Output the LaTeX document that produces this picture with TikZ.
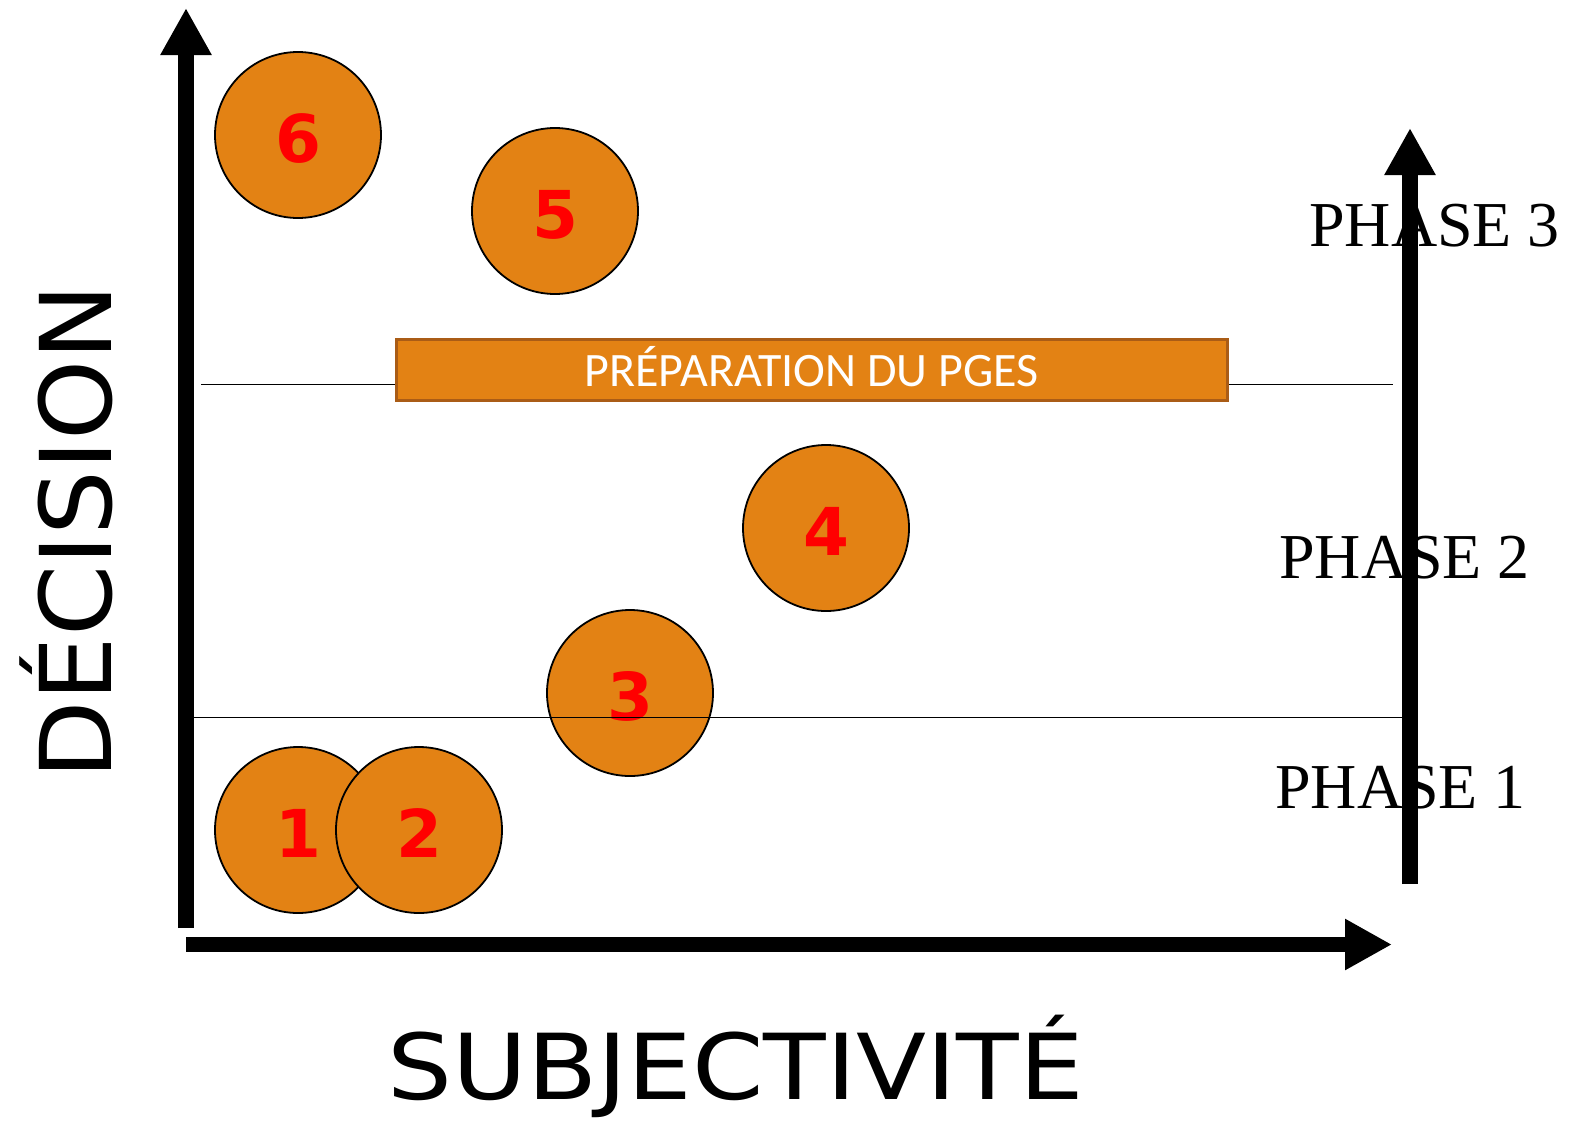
\documentclass[tikz,border=0pt]{standalone}
\usepackage{fontspec}
\usepackage{graphicx}
\setmainfont{Liberation Serif}
\newfontfamily\djvfont{DejaVu Sans}
\newfontfamily\carlitofont{Carlito}
\usetikzlibrary{arrows.meta}
\definecolor{orng}{RGB}{227,130,20}
\definecolor{orngdark}{RGB}{170,92,22}
\definecolor{numred}{RGB}{255,0,0}
\begin{document}
\begin{tikzpicture}[x=1pt,y=-1pt,
  bubble/.style={circle,draw=black,line width=1.8pt,fill=orng,minimum size=166pt,inner sep=0pt},
  num/.style={text=numred,font=\djvfont\bfseries\fontsize{66}{66}\selectfont,inner sep=0pt,anchor=base},
  axis/.style={line width=15.5pt,-{Triangle[width=48pt,length=47pt]}},
  thin/.style={line width=1.8pt},
  phase/.style={font=\fontsize{64}{64}\selectfont,inner sep=0pt,anchor=base west}]
\useasboundingbox (0,0) rectangle (1571,1122);
% circles
\node[bubble] (c6) at (298,135) {};
\node[bubble] (c5) at (555,211) {};
\node[bubble] (c4) at (826,528) {};
\node[bubble] (c3) at (630,693) {};
\node[bubble] (c1) at (298,830) {};
\node[bubble] (c2) at (419,830) {};
\node[num] (n6) at (298,162) {6};
\node[num] (n5) at (555,238) {5};
\node[num] (n4) at (826,555) {4};
\node[num] (n3) at (630,720) {3};
\node[num] (n1) at (298,857) {1};
\node[num] (n2) at (419,857) {2};
% phase separator lines
\coordinate (l1a) at (193,717.5);
\coordinate (l1b) at (1403,717.5);
\coordinate (l2a) at (201,384.5);
\coordinate (l2b) at (1393,384.5);
\draw[thin] (l1a) -- (l1b);
\draw[thin] (l2a) -- (l2b);
% banner
\node[draw=orngdark,line width=3pt,fill=orng,minimum width=831pt,minimum height=61pt,inner sep=0pt] (banner) at (811.5,369.5) {};
\node[text=white,font=\carlitofont\fontsize{48}{48}\selectfont,inner sep=0pt,anchor=base] (bannertxt) at (811.5,386.5) {PRÉPARATION DU PGES};
% phase labels
\node[phase] (p3) at (1309,246) {PHASE 3};
\node[phase] (p2) at (1279,578) {PHASE 2};
\node[phase] (p1) at (1275,808) {PHASE 1};
% axes
\coordinate (yb) at (186,928);
\coordinate (yt) at (186,8);
\coordinate (xl) at (186,944.5);
\coordinate (xr) at (1392,944.5);
\coordinate (pb) at (1410,884);
\coordinate (pt) at (1410,128);
\draw[axis] (yb) -- (yt);
\draw[axis] (xl) -- (xr);
\draw[axis] (pb) -- (pt);
% axis titles
\node[font=\djvfont\fontsize{99}{99}\selectfont,inner sep=0pt,rotate=90,anchor=base west] (ylab) at (111,780) {\scalebox{1.03}[1]{DÉCISION}};
\node[font=\djvfont\fontsize{91}{91}\selectfont,inner sep=0pt,anchor=base west] (xlab) at (387,1099) {\scalebox{1.125}[1]{SUBJECTIVITÉ}};
\end{tikzpicture}
\end{document}
